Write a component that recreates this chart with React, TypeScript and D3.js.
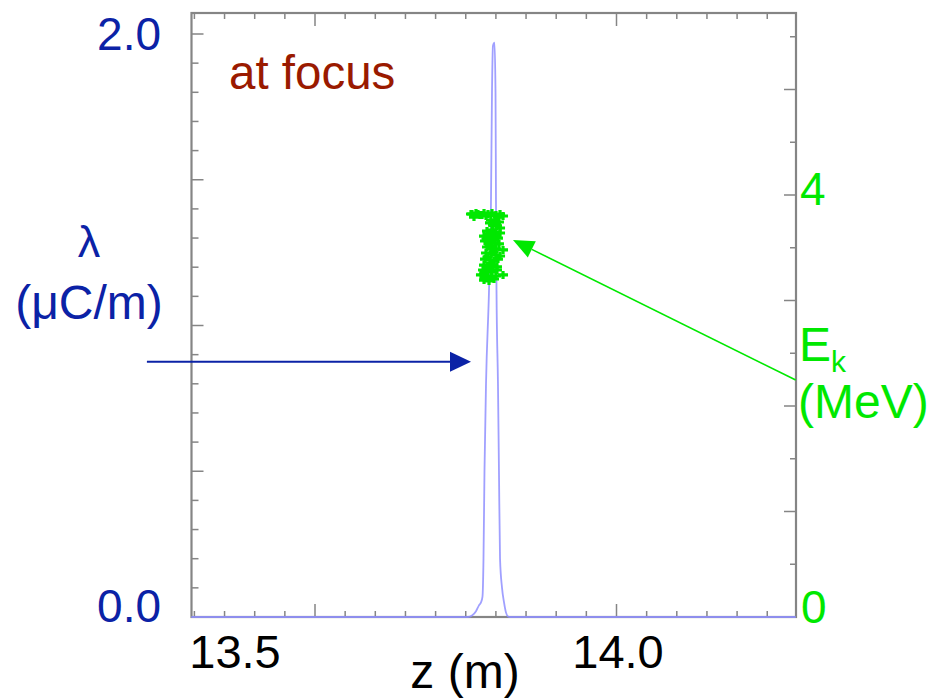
import React from "react";
import * as d3 from "d3";

// Line charge density along z (m) -> lambda (uC/m)
const lambdaZ = [13.443, 13.8042, 13.8094, 13.8146, 13.8185, 13.8211, 13.8231, 13.8244, 13.8257, 13.8277, 13.8316, 13.8342, 13.8355, 13.8368, 13.8388, 13.8401, 13.8407, 13.8414, 13.8433, 13.8446, 13.846, 13.8486, 13.8512, 13.8538, 13.8564, 13.859, 14.232];
const lambdaV = [0, 0, 0.005, 0.02, 0.04, 0.05, 0.07, 0.2, 0.5, 0.8, 1.12, 1.43, 1.8, 1.96, 1.97, 1.8, 1.43, 1.12, 0.8, 0.5, 0.2, 0.1, 0.05, 0.015, 0.002, 0, 0];

// Kinetic energy of macro-particles (z in m, Ek in MeV)
const particleZ = [
  13.8081, 13.8094, 13.8146, 13.8198, 13.8251, 13.8303, 13.8355, 13.8407, 13.846, 13.8499, 13.812, 13.8277, 13.8433, 13.8172, 13.8225,
  13.8342, 13.8394, 13.8446, 13.8368, 13.842, 13.846, 13.8329, 13.8407,
  13.829, 13.8355, 13.8407, 13.846, 13.8322,
  13.8251, 13.8316, 13.8381, 13.8433, 13.8283,
  13.8264, 13.8329, 13.8394, 13.8446, 13.8362,
  13.829, 13.8355, 13.8407, 13.8499, 13.8322,
  13.8277, 13.8342, 13.8407, 13.846, 13.8375,
  13.8264, 13.8329, 13.8381, 13.8433, 13.8296,
  13.8251, 13.8303, 13.8368, 13.842, 13.8336,
  13.8238, 13.829, 13.8355, 13.842, 13.8322,
  13.8211, 13.8277, 13.8342, 13.8407, 13.8499, 13.8251,
  13.8251, 13.8316, 13.8381, 13.8283,
];
const particleEk = [
  3.82, 3.82, 3.829, 3.81, 3.829, 3.82, 3.829, 3.81, 3.82, 3.801, 3.791, 3.801, 3.791, 3.82, 3.81,
  3.763, 3.754, 3.744, 3.716, 3.706, 3.687, 3.735, 3.735,
  3.659, 3.668, 3.649, 3.64, 3.63,
  3.611, 3.602, 3.611, 3.592, 3.583,
  3.564, 3.555, 3.545, 3.536, 3.574,
  3.507, 3.498, 3.488, 3.479, 3.517,
  3.45, 3.441, 3.431, 3.422, 3.46,
  3.393, 3.384, 3.374, 3.393, 3.412,
  3.336, 3.327, 3.336, 3.318, 3.355,
  3.289, 3.28, 3.27, 3.289, 3.308,
  3.242, 3.232, 3.223, 3.232, 3.242, 3.251,
  3.194, 3.185, 3.204, 3.213,
];

const lambdaTicks = d3.range(0, 21).map((i) => i / 10);
const ekTicks = d3.range(0, 12).map((i) => i / 2);
const zTickIndex = d3.range(-4, 16);
const zLabels = [13.5, 14.0];
const lambdaLabels = ["0.0", "2.0"];
const ekLabels = [0, 4];

const W = 944;
const H = 698;
const frame = { left: 191.5, right: 796, top: 13, bottom: 617 };

const BLUE = "#0b22a6";
const GREEN = "#00e800";
const RED = "#9a1a00";
const AXIS = "#858585";
const FONT = "'Liberation Sans', Arial, sans-serif";

export default function App() {
  const x = d3.scaleLinear().domain([13.5, 14.0]).range([235, 618]);
  const yL = d3.scaleLinear().domain([0, 2]).range([frame.bottom, 34]);
  const yR = d3.scaleLinear().domain([0, 4]).range([frame.bottom, 195]);
  const tickX = d3.scaleLinear().domain([0, 10]).range([315, 616.5]);

  const line = d3
    .line<number>()
    .x((_, i) => x(lambdaZ[i]))
    .y((d) => yL(d))
    .curve(d3.curveMonotoneX);

  // annotation arrows, anchored in data units
  const blueTail = [13.385, 0.876];
  const blueTip = [13.8081, 0.876];
  const greenTip = [13.8629, 3.573];
  const greenTail = [14.232, 2.246];

  const bx0 = x(blueTail[0]);
  const bx1 = x(blueTip[0]);
  const by = yL(blueTip[1]);
  const gx0 = x(greenTail[0]);
  const gy0 = yR(greenTail[1]);
  const gx1 = x(greenTip[0]);
  const gy1 = yR(greenTip[1]);
  const ang = Math.atan2(gy1 - gy0, gx1 - gx0);
  const headLen = 21;
  const headHalf = 9;
  const hbx = gx1 - headLen * Math.cos(ang);
  const hby = gy1 - headLen * Math.sin(ang);
  const px = -Math.sin(ang) * headHalf;
  const py = Math.cos(ang) * headHalf;

  return (
    <svg
      width={W}
      height={H}
      style={{ position: "absolute", left: 0, top: 0, background: "#fff" }}
      fontFamily={FONT}
    >
      <defs>
        <filter id="soft" x="-20%" y="-20%" width="140%" height="140%">
          <feGaussianBlur stdDeviation={0.7} />
        </filter>
      </defs>
      <rect x={0} y={0} width={W} height={H} fill="#fff" />

      {/* left ticks */}
      {lambdaTicks.map((t, i) => (
        <line
          key={"l" + i}
          x1={frame.left}
          x2={frame.left + (i % 5 === 0 ? 12 : 7)}
          y1={yL(t)}
          y2={yL(t)}
          stroke={AXIS}
          strokeWidth={1.5}
        />
      ))}
      {/* right ticks */}
      {ekTicks.map((t, i) => (
        <line
          key={"r" + i}
          x1={frame.right}
          x2={frame.right - (i % 2 === 0 ? 12 : 6)}
          y1={yR(t)}
          y2={yR(t)}
          stroke={AXIS}
          strokeWidth={1.5}
        />
      ))}
      {/* top and bottom ticks */}
      {zTickIndex.map((i) => {
        const len = i % 10 === 0 ? 13 : 6;
        const xx = tickX(i);
        return (
          <g key={"t" + i}>
            <line x1={xx} x2={xx} y1={frame.top} y2={frame.top + len} stroke={AXIS} strokeWidth={1.5} />
            <line x1={xx} x2={xx} y1={frame.bottom} y2={frame.bottom - len} stroke={AXIS} strokeWidth={1.5} />
          </g>
        );
      })}

      <rect
        x={frame.left}
        y={frame.top}
        width={frame.right - frame.left}
        height={frame.bottom - frame.top}
        fill="none"
        stroke={AXIS}
        strokeWidth={2.2}
      />

      {/* line density */}
      <path d={line(lambdaV) || ""} fill="none" stroke="#8f8fff" strokeWidth={1.8} opacity={0.85} />

      {/* particle energies */}
      <g filter="url(#soft)">
        {particleZ.map((z, i) => (
          <path
            key={"p" + i}
            transform={`translate(${x(z)},${yR(particleEk[i])})`}
            d="M-5,0H5M0,-4V4"
            stroke={GREEN}
            strokeWidth={3.2}
            fill="none"
          />
        ))}
      </g>

      {/* arrows */}
      <line x1={bx0} x2={bx1 - 20} y1={by} y2={by} stroke={BLUE} strokeWidth={2} />
      <path d={`M${bx1},${by}L${bx1 - 21},${by - 10}L${bx1 - 21},${by + 10}Z`} fill={BLUE} />
      <line x1={gx0} y1={gy0} x2={hbx} y2={hby} stroke={GREEN} strokeWidth={1.6} />
      <path d={`M${gx1},${gy1}L${hbx + px},${hby + py}L${hbx - px},${hby - py}Z`} fill={GREEN} />

      {/* left axis text */}
      <text x={161} y={yL(2) + 16} textAnchor="end" fontSize={46} fill={BLUE}>{lambdaLabels[1]}</text>
      <text x={161} y={yL(0) + 5} textAnchor="end" fontSize={46} fill={BLUE}>{lambdaLabels[0]}</text>
      <text x={89} y={257} textAnchor="middle" fontSize={45} fill={BLUE}>λ</text>
      <text x={89} y={319} textAnchor="middle" fontSize={48} fill={BLUE}>(μC/m)</text>

      {/* right axis text */}
      <text x={800} y={yR(4) + 10} fontSize={46} fill={GREEN}>{ekLabels[1]}</text>
      <text x={801} y={yR(0) + 6} fontSize={46} fill={GREEN}>{ekLabels[0]}</text>
      <text x={799} y={361} fontSize={48} fill={GREEN}>
        E<tspan fontSize={30} dy={11}>k</tspan>
      </text>
      <text x={798} y={418} fontSize={48} fill={GREEN}>(MeV)</text>

      {/* bottom axis text */}
      {zLabels.map((z) => (
        <text key={"z" + z} x={x(z)} y={668} textAnchor="middle" fontSize={47} fill="#000">
          {z.toFixed(1)}
        </text>
      ))}
      <text x={465} y={688} textAnchor="middle" fontSize={48} fill="#000">z (m)</text>

      <text x={229} y={89} fontSize={47.5} fill={RED}>at focus</text>
    </svg>
  );
}
